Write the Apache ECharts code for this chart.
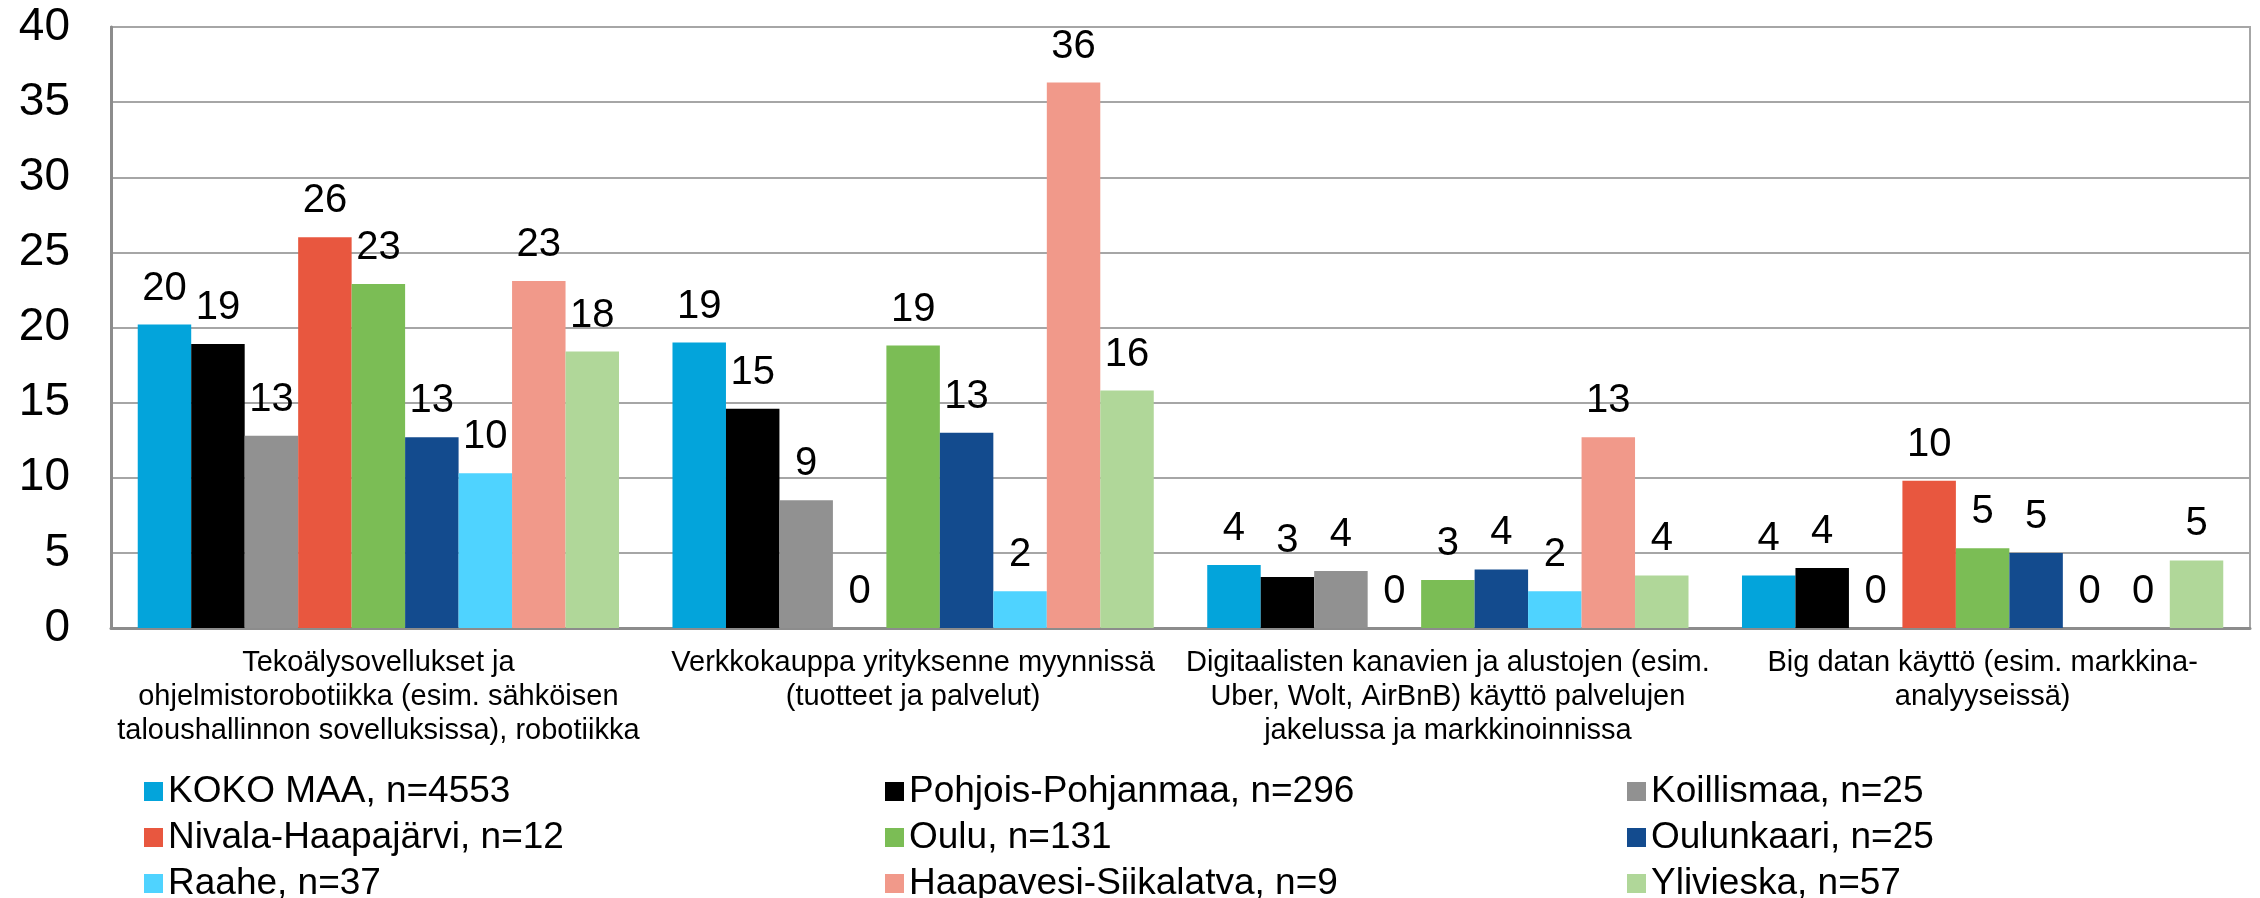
<!DOCTYPE html>
<html>
<head>
<meta charset="utf-8">
<script src="https://cdn.jsdelivr.net/npm/echarts@6/dist/echarts.min.js"></script>
<style>
html,body{margin:0;padding:0;background:#fff;}
#chart{width:2260px;height:898px;}
</style>
</head>
<body>
<div id="chart"></div>
<script>
// Data
const categories = [
  "Tekoälysovellukset ja\nohjelmistorobotiikka (esim. sähköisen\ntaloushallinnon sovelluksissa), robotiikka",
  "Verkkokauppa yrityksenne myynnissä\n(tuotteet ja palvelut)",
  "Digitaalisten kanavien ja alustojen (esim.\nUber, Wolt, AirBnB) käyttö palvelujen\njakelussa ja markkinoinnissa",
  "Big datan käyttö (esim. markkina-\nanalyyseissä)"
];
const seriesNames = [
  "KOKO MAA, n=4553",
  "Pohjois-Pohjanmaa, n=296",
  "Koillismaa, n=25",
  "Nivala-Haapajärvi, n=12",
  "Oulu, n=131",
  "Oulunkaari, n=25",
  "Raahe, n=37",
  "Haapavesi-Siikalatva, n=9",
  "Ylivieska, n=57"
];
const kokoMaa          = [20.2, 19.0, 4.2, 3.5];
const pohjoisPohjanmaa = [18.9, 14.6, 3.4, 4.0];
const koillismaa       = [12.8, 8.5, 3.8, 0];
const nivalaHaapajarvi = [26.0, 0, 0, 9.8];
const oulu             = [22.9, 18.8, 3.2, 5.3];
const oulunkaari       = [12.7, 13.0, 3.9, 5.0];
const raahe            = [10.3, 2.45, 2.45, 0];
const haapavesi        = [23.1, 36.3, 12.7, 0];
const ylivieska        = [18.4, 15.8, 3.5, 4.5];
const yTicks = [0, 5, 10, 15, 20, 25, 30, 35, 40];

const seriesData = [kokoMaa, pohjoisPohjanmaa, koillismaa, nivalaHaapajarvi, oulu, oulunkaari, raahe, haapavesi, ylivieska];
const colors = ['#03A4DB', '#000000', '#919191', '#E8573F', '#7BBD55', '#134B8E', '#4FD3FF', '#F1998A', '#B0D799'];

const FONT = '"Liberation Sans", Arial, sans-serif';

const chart = echarts.init(document.getElementById('chart'), null, {renderer: 'canvas'});

const series = seriesNames.map((name, i) => ({
  name: name,
  type: 'bar',
  data: seriesData[i],
  barGap: '0%',
  barCategoryGap: '10%',
  itemStyle: {color: colors[i]},
  label: {
    show: true,
    position: 'top',
    distance: 16,
    fontFamily: FONT,
    fontSize: 40,
    lineHeight: 40,
    color: '#000',
    formatter: p => Math.round(p.value)
  }
}));

// legend: 3 columns, row-major order
const legendLefts = [144, 885, 1627];
const legendTops = [773, 819, 865];
const legends = seriesNames.map((name, i) => ({
  orient: 'horizontal',
  left: legendLefts[i % 3],
  top: legendTops[Math.floor(i / 3)],
  padding: 0,
  itemWidth: 19,
  itemHeight: 19,
  icon: 'rect',
  data: [name],
  textStyle: {fontFamily: FONT, fontSize: 37, lineHeight: 34, color: '#000'}
}));

chart.setOption({
  animation: false,
  color: colors,
  grid: {
    left: 111, right: 10, top: 27, bottom: 270,
    show: true, borderColor: '#a6a6a6', borderWidth: 2,
    containLabel: false
  },
  legend: legends,
  xAxis: {
    type: 'category',
    data: categories,
    axisTick: {show: false},
    axisLine: {show: true, lineStyle: {color: '#8c8c8c', width: 3}},
    axisLabel: {
      interval: 0,
      margin: 18,
      fontFamily: FONT,
      fontSize: 29,
      lineHeight: 34,
      color: '#000'
    }
  },
  yAxis: {
    type: 'value',
    min: yTicks[0],
    max: yTicks[yTicks.length - 1],
    interval: 5,
    axisLine: {show: true, lineStyle: {color: '#8c8c8c', width: 3}},
    axisTick: {show: false},
    splitLine: {show: true, lineStyle: {color: '#a6a6a6', width: 2}},
    axisLabel: {
      margin: 41,
      fontFamily: FONT,
      fontSize: 46,
      color: '#000'
    }
  },
  series: series
});
</script>
</body>
</html>
